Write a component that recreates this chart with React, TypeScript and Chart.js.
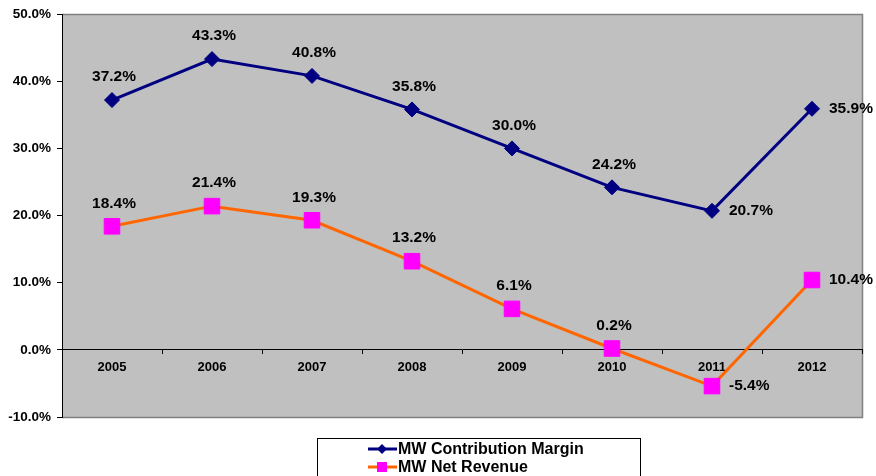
import React, { useEffect, useRef } from "react";
import { Chart, registerables } from "chart.js";

Chart.register(...registerables);

const years = ["2005", "2006", "2007", "2008", "2009", "2010", "2011", "2012"];
const contributionMargin = [37.2, 43.3, 40.8, 35.8, 30.0, 24.2, 20.7, 35.9];
const netRevenue = [18.4, 21.4, 19.3, 13.2, 6.1, 0.2, -5.4, 10.4];
const seriesNames = ["MW Contribution Margin", "MW Net Revenue"];
const yTicks = [-10, 0, 10, 20, 30, 40, 50];

const FONT = "'Liberation Sans', Arial, Helvetica, sans-serif";

const bgPlugin = {
  id: "bgPlugin",
  beforeDraw(chart: any) {
    const { ctx, chartArea: a } = chart;
    ctx.save();
    ctx.fillStyle = "#C0C0C0";
    ctx.fillRect(a.left, a.top, a.right - a.left, a.bottom - a.top);
    ctx.strokeStyle = "#808080";
    ctx.lineWidth = 1.5;
    ctx.beginPath();
    ctx.moveTo(a.left, a.top + 0.5);
    ctx.lineTo(a.right + 0.5, a.top + 0.5);
    ctx.lineTo(a.right + 0.5, a.bottom + 0.5);
    ctx.lineTo(a.left, a.bottom + 0.5);
    ctx.stroke();
    ctx.restore();
  },
};

const labelPlugin = {
  id: "labelPlugin",
  afterDatasetsDraw(chart: any) {
    const { ctx } = chart;
    ctx.save();
    ctx.font = `bold 15.5px ${FONT}`;
    ctx.fillStyle = "#000000";
    ctx.textBaseline = "middle";
    chart.data.datasets.forEach((ds: any, di: number) => {
      const meta = chart.getDatasetMeta(di);
      meta.data.forEach((pt: any, i: number) => {
        const v = ds.data[i] as number;
        const txt = v.toFixed(1) + "%";
        if (i >= years.length - 2) {
          ctx.textAlign = "left";
          ctx.fillText(txt, pt.x + 17, pt.y);
        } else {
          ctx.textAlign = "center";
          ctx.fillText(txt, pt.x + 2, pt.y - 23);
        }
      });
    });
    ctx.restore();
  },
};

const legendPlugin = {
  id: "customLegend",
  afterDraw(chart: any) {
    const { ctx } = chart;
    ctx.save();
    ctx.fillStyle = "#FFFFFF";
    ctx.strokeStyle = "#000000";
    ctx.lineWidth = 1;
    ctx.fillRect(317.5, 438.5, 323, 60);
    ctx.strokeRect(317.5, 438.5, 323, 60);
    const rows = [449, 467];
    chart.data.datasets.forEach((ds: any, di: number) => {
      const y = rows[di];
      ctx.strokeStyle = ds.borderColor;
      ctx.lineWidth = 3;
      ctx.beginPath();
      ctx.moveTo(368, y);
      ctx.lineTo(397, y);
      ctx.stroke();
      ctx.fillStyle = ds.pointBackgroundColor;
      if (ds.pointStyle === "rectRot") {
        ctx.beginPath();
        ctx.moveTo(382, y - 5);
        ctx.lineTo(387, y);
        ctx.lineTo(382, y + 5);
        ctx.lineTo(377, y);
        ctx.closePath();
        ctx.fill();
      } else {
        ctx.fillRect(377, y - 5, 10, 10);
      }
      ctx.fillStyle = "#000000";
      ctx.font = `bold 16px ${FONT}`;
      ctx.textAlign = "left";
      ctx.textBaseline = "middle";
      ctx.fillText(ds.label, 398, y + 1);
    });
    ctx.restore();
  },
};

export default function App() {
  const ref = useRef<HTMLCanvasElement | null>(null);
  useEffect(() => {
    if (!ref.current) return;
    const chart = new Chart(ref.current, {
      type: "line",
      data: {
        labels: years,
        datasets: [
          {
            label: seriesNames[0],
            data: contributionMargin,
            borderColor: "#000080",
            backgroundColor: "#000080",
            pointBackgroundColor: "#000080",
            pointBorderColor: "#000080",
            pointStyle: "rectRot",
            pointRadius: 7.5,
            pointBorderWidth: 1,
            borderWidth: 3,
            tension: 0,
          },
          {
            label: seriesNames[1],
            data: netRevenue,
            borderColor: "#FF6600",
            backgroundColor: "#FF00FF",
            pointBackgroundColor: "#FF00FF",
            pointBorderColor: "#FF00FF",
            pointStyle: "rect",
            pointRadius: 11,
            pointBorderWidth: 1,
            borderWidth: 3,
            tension: 0,
          },
        ],
      },
      options: {
        responsive: false,
        animation: false,
        layout: { padding: { left: 0, right: 14, top: 14, bottom: 59 } },
        plugins: {
          legend: { display: false },
          tooltip: { enabled: false },
        },
        scales: {
          x: {
            type: "category",
            position: { y: 0 } as any,
            offset: true,
            grid: {
              drawOnChartArea: false,
              drawTicks: true,
              tickLength: 4,
              color: "#000000",
              offset: true,
            },
            border: { color: "#000000", width: 1 },
            ticks: {
              color: "#000000",
              font: { family: FONT, size: 13, weight: "bold" },
              padding: 6,
              maxRotation: 0,
            },
          },
          y: {
            min: -10,
            max: 50,
            afterFit: (s: any) => {
              s.width = 62;
            },
            afterBuildTicks: (s: any) => {
              s.ticks = yTicks.map((v) => ({ value: v }));
            },
            grid: {
              drawOnChartArea: false,
              drawTicks: true,
              tickLength: 5,
              color: "#000000",
            },
            border: { color: "#000000", width: 1 },
            ticks: {
              color: "#000000",
              font: { family: FONT, size: 13.5, weight: "bold" },
              padding: 6,
              callback: (v: any) => Number(v).toFixed(1) + "%",
            },
          },
        },
      },
      plugins: [bgPlugin, labelPlugin, legendPlugin],
    });
    return () => chart.destroy();
  }, []);
  return (
    <canvas
      ref={ref}
      width={876}
      height={476}
      style={{ position: "absolute", left: 0, top: 0, display: "block" }}
    />
  );
}
